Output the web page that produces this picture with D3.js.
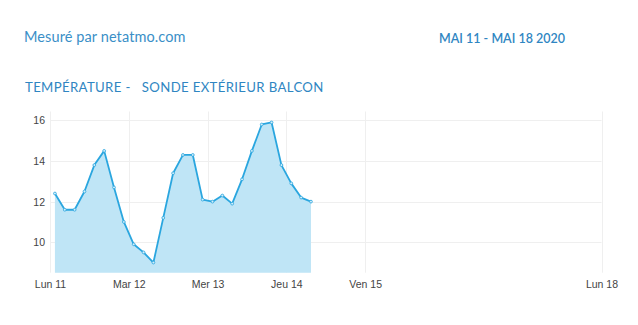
<!DOCTYPE html>
<html lang="fr">
<head>
<meta charset="UTF-8">
<title>Température</title>
<style>
    body { margin: 0; background: #fff; }
    svg { display: block; font-family: Lato, "Open Sans", sans-serif; }
    .grid line { stroke: #efefef; stroke-width: 1; }
    .axis text { fill: #444; font-size: 10.5px; }
</style>
</head>
<body>
<svg width="638" height="325"></svg>
<script src="https://cdn.jsdelivr.net/npm/d3@7.8.5/dist/d3.min.js"></script>
<script>
    // relevés toutes les 3 h, lun 11 -> jeu 14
    const times = [
        '2020-05-11T01:30', '2020-05-11T04:30', '2020-05-11T07:30', '2020-05-11T10:30',
        '2020-05-11T13:30', '2020-05-11T16:30', '2020-05-11T19:30', '2020-05-11T22:30',
        '2020-05-12T01:30', '2020-05-12T04:30', '2020-05-12T07:30', '2020-05-12T10:30',
        '2020-05-12T13:30', '2020-05-12T16:30', '2020-05-12T19:30', '2020-05-12T22:30',
        '2020-05-13T01:30', '2020-05-13T04:30', '2020-05-13T07:30', '2020-05-13T10:30',
        '2020-05-13T13:30', '2020-05-13T16:30', '2020-05-13T19:30', '2020-05-13T22:30',
        '2020-05-14T01:30', '2020-05-14T04:30', '2020-05-14T07:30'
    ]
    const temps = [
        12.4, 11.6, 11.6, 12.5, 13.8, 14.5, 12.7, 11.0,
        9.9, 9.5, 9.0, 11.2, 13.4, 14.3, 14.3, 12.1,
        12.0, 12.3, 11.9, 13.1, 14.5, 15.8, 15.9, 13.8,
        12.9, 12.2, 12.0
    ]
    const dayTicks = ['2020-05-11', '2020-05-12', '2020-05-13', '2020-05-14', '2020-05-15', '2020-05-18']
    const dayLabels = ['Lun 11', 'Mar 12', 'Mer 13', 'Jeu 14', 'Ven 15', 'Lun 18']
    const yTicks = [10, 12, 14, 16]

    const parse = d3.timeParse('%Y-%m-%dT%H:%M')
    const parseDay = d3.timeParse('%Y-%m-%d')
    const data = times.map((t, i) => ({ t: parse(t), v: temps[i] }))

    const svg = d3.select('svg')
    const plotLeft = 50, plotRight = 601.5, plotTop = 111.5, plotBottom = 272.7

    const x = d3.scaleTime()
        .domain([parseDay('2020-05-11'), parseDay('2020-05-18')])
        .range([plotLeft, plotRight])
    const y = d3.scaleLinear()
        .domain([8.5, 16.44])
        .range([plotBottom, plotTop])

    // titres
    svg.append('text')
        .attr('x', 24).attr('y', 41.7)
        .attr('fill', '#3a8fc7')
        .style('font-size', '14.5px')
        .style('letter-spacing', '0.1px')
        .text('Mesuré par netatmo.com')
    svg.append('text')
        .attr('x', 439).attr('y', 43)
        .attr('fill', '#2f86c2')
        .style('font-size', '12.5px').style('font-weight', 600)
        .text('MAI 11 - MAI 18 2020')
    svg.append('text')
        .attr('x', 25).attr('y', 92.3)
        .attr('fill', '#2f86c2')
        .style('font-size', '13.2px')
        .style('letter-spacing', '0.35px')
        .style('white-space', 'pre')
        .text('TEMPÉRATURE -   SONDE EXTÉRIEUR BALCON')

    // grille
    const grid = svg.append('g').attr('class', 'grid')
    grid.selectAll('.h').data(yTicks).join('line')
        .attr('class', 'h')
        .attr('x1', plotLeft).attr('x2', plotRight)
        .attr('y1', d => Math.round(y(d)) + 0.5).attr('y2', d => Math.round(y(d)) + 0.5)
    grid.selectAll('.v').data(dayTicks).join('line')
        .attr('class', 'v')
        .attr('x1', d => Math.round(x(parseDay(d))) + 0.5).attr('x2', d => Math.round(x(parseDay(d))) + 0.5)
        .attr('y1', plotTop).attr('y2', plotBottom)

    // aire + ligne
    const area = d3.area().x(d => x(d.t)).y0(plotBottom).y1(d => y(d.v))
    const line = d3.line().x(d => x(d.t)).y(d => y(d.v))

    svg.append('path').datum(data)
        .attr('d', area)
        .attr('fill', '#bfe5f6')
    svg.append('path').datum(data)
        .attr('d', line)
        .attr('fill', 'none')
        .attr('stroke', '#2aa6df')
        .attr('stroke-width', 1.8)
        .attr('stroke-linejoin', 'round')
    svg.selectAll('.pt').data(data).join('circle')
        .attr('class', 'pt')
        .attr('cx', d => x(d.t)).attr('cy', d => y(d.v))
        .attr('r', 1.4)
        .attr('fill', '#d6effa')
        .attr('stroke', '#2aa6df')
        .attr('stroke-width', 0.8)

    // axes
    const xAxis = d3.axisBottom(x)
        .tickValues(dayTicks.map(parseDay))
        .tickFormat((d, i) => dayLabels[i])
        .tickSize(0).tickPadding(0)
    svg.append('g').attr('class', 'axis')
        .attr('transform', `translate(0,${plotBottom + 8})`)
        .call(xAxis)
        .call(g => g.select('.domain').remove())

    const yAxis = d3.axisLeft(y)
        .tickValues(yTicks)
        .tickSize(0).tickPadding(5)
    svg.append('g').attr('class', 'axis')
        .attr('transform', `translate(${plotLeft},0)`)
        .call(yAxis)
        .call(g => g.select('.domain').remove())
</script>
</body>
</html>
